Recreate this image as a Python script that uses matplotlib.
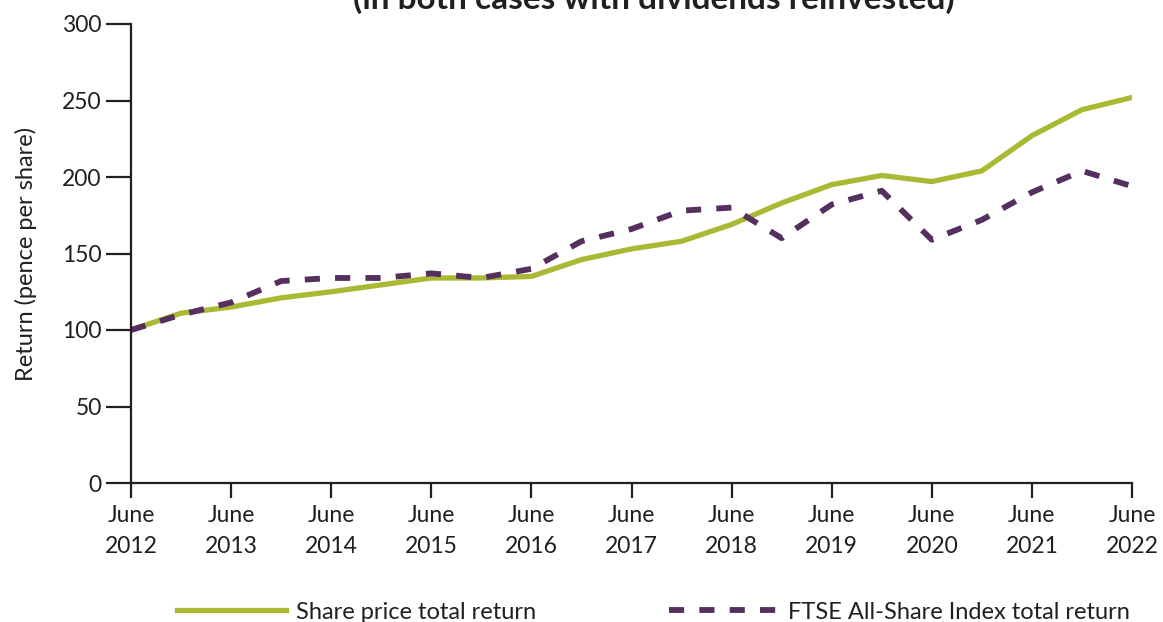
import matplotlib
matplotlib.use("Agg")
import matplotlib.pyplot as plt

plt.rcParams["font.family"] = ["Lato", "DejaVu Sans"]

# half-yearly points, June 2012 .. June 2022 (years since June 2012)
years = [0, 0.5, 1, 1.5, 2, 2.5, 3, 3.5, 4, 4.5, 5, 5.5, 6, 6.5, 7, 7.5, 8, 8.5, 9, 9.5, 10]
share_price = [100, 111, 115, 121, 125, 129.5, 134, 134, 135, 146, 153, 158, 169,
               183, 195, 201, 197, 204, 227, 244, 252]
ftse = [100, 110, 118, 132, 134, 134, 137, 134, 140, 158, 166, 178, 180,
        160, 182, 191, 159, 172, 190, 204, 194]
tick_labels = [f"June\n{y}" for y in range(2012, 2023)]

GREEN = "#a9b933"
PURPLE = "#55305e"
INK = "#231f20"

fig = plt.figure(figsize=(11.63, 6.22), dpi=100)
ax = fig.add_axes([131 / 1163, 139 / 622, 1001 / 1163, 459 / 622])

ax.plot(years, share_price, color=GREEN, lw=3.8, solid_joinstyle="miter",
        label="Share price total return")
ax.plot(years, ftse, color=PURPLE, lw=4.2, linestyle=(0, (2.6, 2.6)),
        label="FTSE All-Share Index total return")

ax.set_xlim(0, 10)
ax.set_ylim(0, 300)
ax.set_xticks(range(11))
ax.set_xticklabels(tick_labels, linespacing=1.55)
ax.set_yticks(range(0, 301, 50))

for s in ("top", "right"):
    ax.spines[s].set_visible(False)
for s in ("left", "bottom"):
    ax.spines[s].set_color(INK)
    ax.spines[s].set_linewidth(1.6)
ax.tick_params(axis="y", length=18, width=1.6, color=INK, labelsize=16.5,
               labelcolor=INK, pad=3)
ax.tick_params(axis="x", length=11, width=1.6, color=INK, labelsize=16.5,
               labelcolor=INK, pad=5)
ax.set_ylabel("Return (pence per share)", fontsize=17, color=INK, labelpad=18)

fig.text(0.562, 1 - 9 / 622, "(in both cases with dividends reinvested)",
         ha="center", va="baseline", fontsize=24, fontweight="bold", color=INK)

fig.legend(loc="center", bbox_to_anchor=(0.562, 0.016), ncol=2, frameon=False,
           fontsize=17, handlelength=4.6, columnspacing=5.6, handletextpad=0.45,
           labelcolor=INK)

fig.savefig("out.png", dpi=100)
